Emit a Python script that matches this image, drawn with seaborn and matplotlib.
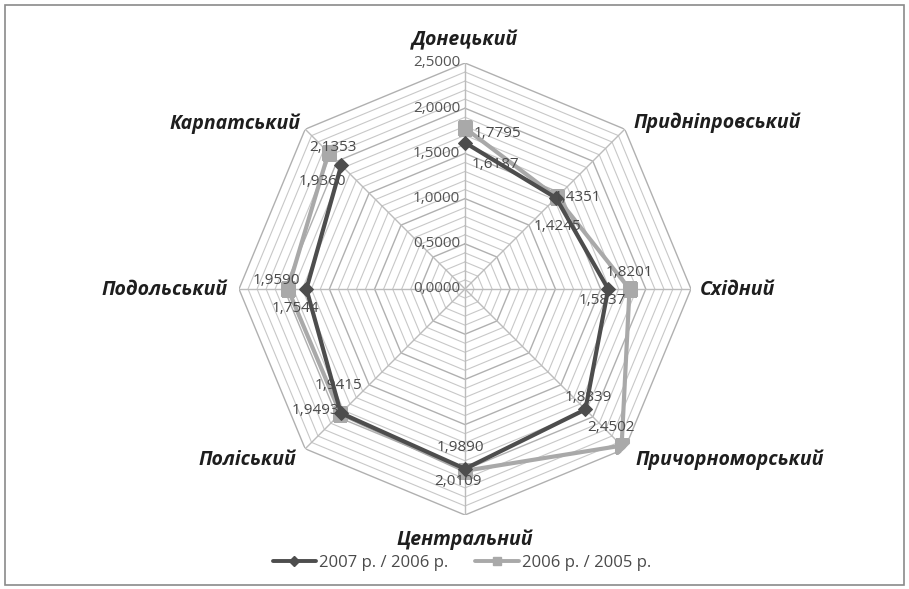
import numpy as np
import pandas as pd
import matplotlib
matplotlib.use("Agg")
import matplotlib.pyplot as plt
import seaborn as sns
from matplotlib.patches import Rectangle
from matplotlib.lines import Line2D

categories = ["Донецький", "Придніпровський", "Східний", "Причорноморський",
              "Центральний", "Поліський", "Подольський", "Карпатський"]
series_2007 = [1.6187, 1.4245, 1.5837, 1.8839, 1.9890, 1.9415, 1.7544, 1.9360]
series_2006 = [1.7795, 1.4351, 1.8201, 2.4502, 2.0109, 1.9493, 1.9590, 2.1353]
series_names = ["2007 р. / 2006 р.", "2006 р. / 2005 р."]
radial_ticks = [0.0, 0.5, 1.0, 1.5, 2.0, 2.5]

sns.set_theme(style="white")
plt.rcParams['font.family'] = ['Open Sans', 'DejaVu Sans']

W, H = 909, 589
fig = plt.figure(figsize=(W / 100, H / 100), dpi=100)
fig.patch.set_facecolor("white")
fig.add_artist(Rectangle((5 / W, 4 / H), 899 / W, 580 / H, transform=fig.transFigure,
                         fill=False, edgecolor="#8a8a8a", lw=1.2))

cx, cy, R = 465, 289, 226
ax = fig.add_axes([(cx - R) / W, (H - cy - R) / H, 2 * R / W, 2 * R / H], projection="polar")
ax.set_theta_zero_location("N")
ax.set_theta_direction(-1)
ax.set_ylim(0, 2.5)
ax.grid(False)
ax.set_xticks([])
ax.set_yticks([])
ax.spines["polar"].set_visible(False)
ax.set_facecolor("none")

n = len(categories)
theta = np.arange(n) * 2 * np.pi / n
theta_c = np.append(theta, theta[0])

# polygon grid (minor every 0.1, major every 0.5)
for k in range(1, 26):
    r = k * 0.1
    major = (k % 5 == 0)
    ax.plot(theta_c, [r] * (n + 1), color="#b0b0b0" if major else "#c8c8c8",
            lw=1.0 if major else 0.8, zorder=1)
for t in theta:
    ax.plot([t, t], [0, 2.5], color="#bcbcbc", lw=1.0, zorder=1)

# radial tick labels
for v in radial_ticks:
    ax.annotate(f"{v:.4f}".replace(".", ","), xy=(0, v), xytext=(-5, 0),
                textcoords="offset pixels", ha="right", va="center",
                fontsize=11, color="#555555", zorder=2)

df = pd.DataFrame({
    "theta": np.concatenate([theta_c, theta_c]),
    "value": series_2007 + [series_2007[0]] + series_2006 + [series_2006[0]],
    "series": [series_names[0]] * (n + 1) + [series_names[1]] * (n + 1),
})

styles = {series_names[1]: dict(color="#a9a9a9", marker="s", ms=10),
          series_names[0]: dict(color="#4d4d4d", marker="D", ms=7)}
for name in [series_names[1], series_names[0]]:
    sub = df[df["series"] == name]
    st = styles[name]
    sns.lineplot(data=sub, x="theta", y="value", ax=ax, sort=False, color=st["color"],
                 lw=3, marker=st["marker"], markersize=st["ms"],
                 markeredgecolor=st["color"], label=name, zorder=3, legend=False)

# data labels
off_2007 = [(30, 22), (1, 29), (-6, 12), (3, -12), (-5, -21), (-2, -28), (-11, 20), (-19, 16)]
off_2006 = [(32, 5), (21, 0), (0, -17), (-11, -18), (-7, 11), (-25, -3), (-12, -8), (4, -5)]
for vals, offs in [(series_2007, off_2007), (series_2006, off_2006)]:
    for t, v, (dx, dy) in zip(theta, vals, offs):
        ax.annotate(f"{v:.4f}".replace(".", ","), xy=(t, v), xytext=(dx, -dy),
                    textcoords="offset pixels", ha="center", va="center",
                    fontsize=11, color="#4a4a4a", zorder=4)

# category labels (pixel positions relative to figure)
cat_pos = [(465, 40, "center"), (633, 123, "left"), (700, 290, "left"),
           (635, 460, "left"), (465, 540, "center"), (296, 460, "right"),
           (228, 290, "right"), (300, 124, "right")]
for name, (x, y, ha) in zip(categories, cat_pos):
    fig.text(x / W, 1 - y / H, name, ha=ha, va="center", fontsize=14,
             fontweight="bold", fontstyle="italic", color="#1e1e1e")

# legend
handles = [Line2D([], [], color="#4d4d4d", lw=2.8, marker="D", ms=5),
           Line2D([], [], color="#a9a9a9", lw=2.8, marker="s", ms=6)]
fig.legend(handles, series_names, loc="center", bbox_to_anchor=(462 / W, 1 - 563 / H),
           ncol=2, frameon=False, fontsize=12, handlelength=2.6, handletextpad=0.2,
           columnspacing=1.6, labelcolor="#4a4a4a")

fig.savefig("out.png", dpi=100, facecolor="white")
